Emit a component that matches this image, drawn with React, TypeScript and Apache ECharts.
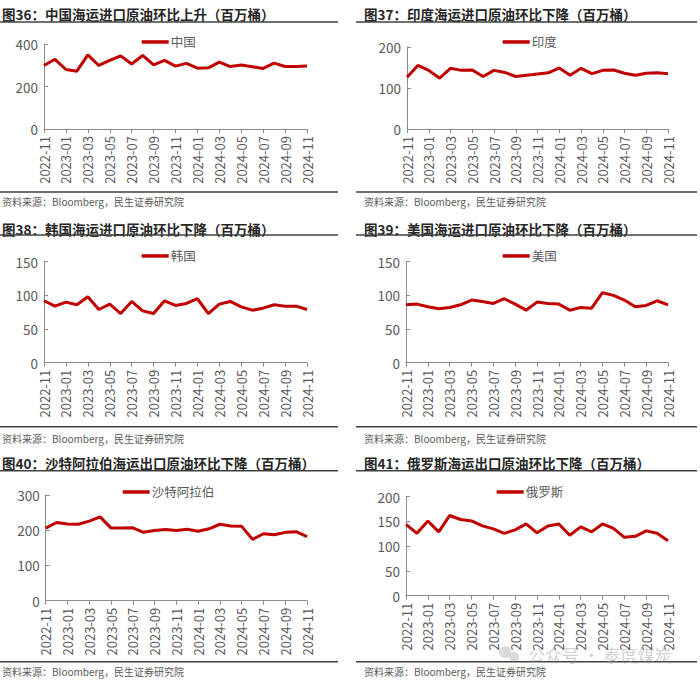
import React, { useEffect, useRef } from "react";
import * as echarts from "echarts";

const months = [
  "2022-11", "2022-12", "2023-01", "2023-02", "2023-03", "2023-04", "2023-05",
  "2023-06", "2023-07", "2023-08", "2023-09", "2023-10", "2023-11", "2023-12",
  "2024-01", "2024-02", "2024-03", "2024-04", "2024-05", "2024-06", "2024-07",
  "2024-08", "2024-09", "2024-10", "2024-11",
];

const china = [299, 328, 280, 272, 349, 299, 323, 344, 306, 346, 302, 323, 296, 309, 286, 288, 315, 294, 301, 293, 285, 310, 294, 294, 296];
const india = [126, 155, 143, 124, 148, 143, 144, 128, 143, 138, 128, 131, 134, 137, 149, 131, 148, 135, 143, 144, 136, 131, 136, 137, 135];
const korea = [92, 84, 90, 86, 98, 79, 87, 73, 91, 77, 73, 92, 85, 88, 95, 73, 87, 91, 83, 78, 81, 86, 84, 84, 79];
const usa = [86, 87, 83, 80, 82, 86, 93, 91, 88, 95, 87, 78, 90, 88, 87, 78, 82, 81, 104, 100, 93, 83, 85, 92, 86];
const saudi = [206, 222, 218, 217, 226, 238, 206, 206, 207, 194, 199, 202, 199, 203, 197, 204, 217, 212, 211, 174, 190, 187, 194, 196, 182];
const russia = [144, 126, 151, 129, 162, 154, 151, 141, 135, 126, 133, 145, 127, 141, 145, 122, 139, 129, 145, 136, 118, 120, 131, 126, 111];

const titles = [
  "图36：中国海运进口原油环比上升（百万桶）",
  "图37：印度海运进口原油环比下降（百万桶）",
  "图38：韩国海运进口原油环比下降（百万桶）",
  "图39：美国海运进口原油环比下降（百万桶）",
  "图40：沙特阿拉伯海运出口原油环比下降（百万桶）",
  "图41：俄罗斯海运出口原油环比下降（百万桶）",
];
const names = ["中国", "印度", "韩国", "美国", "沙特阿拉伯", "俄罗斯"];
const seriesData = [china, india, korea, usa, saudi, russia];
const yMax = [400, 200, 150, 150, 300, 200];
const yInterval = [200, 100, 50, 50, 100, 50];
const sourceText = "资料来源：Bloomberg，民生证券研究院";

// layout
const grids = [
  { left: 44, top: 44, width: 263, height: 85 },
  { left: 407, top: 47, width: 261, height: 82 },
  { left: 44, top: 261.7, width: 263, height: 101 },
  { left: 406, top: 261.7, width: 262, height: 101 },
  { left: 45.7, top: 495, width: 261.3, height: 105.7 },
  { left: 406, top: 496.7, width: 262, height: 99 },
];
const legendPos = [
  { left: 141.7, cy: 42.7 },
  { left: 502.7, cy: 42.7 },
  { left: 141.7, cy: 256.7 },
  { left: 502.7, cy: 256.7 },
  { left: 122.7, cy: 492.7 },
  { left: 496.7, cy: 492.7 },
];
const rowTitleY = [14, 229.3, 462.7];
const rowUnderY = [22, 235, 470.7];
const rowBottomY = [192, 426.7, 661.7];
const rowSourceY = [201.7, 438.3, 671.7];
const colTitleX = [2, 364];
const colLine = [
  [0, 338],
  [356, 697],
];

const FONT = '"Noto Sans CJK SC", "Noto Sans", sans-serif';
const RED = "#C00000";
const AXIS = "#8C8C8C";
const LABEL = "#595959";

export default function App() {
  const ref = useRef<HTMLDivElement>(null);

  useEffect(() => {
    if (!ref.current) return;
    const chart = echarts.init(ref.current, undefined, { renderer: "svg" });

    const graphic: any[] = [];
    for (let i = 0; i < 6; i++) {
      const row = Math.floor(i / 2);
      const col = i % 2;
      graphic.push({
        type: "text",
        style: {
          text: titles[i],
          x: colTitleX[col],
          y: rowTitleY[row],
          verticalAlign: "middle",
          fill: "#262626",
          font: `bold 13.5px ${FONT}`,
        },
      });
      graphic.push({
        type: "line",
        shape: { x1: colLine[col][0], y1: rowUnderY[row], x2: colLine[col][1], y2: rowUnderY[row] },
        style: { stroke: "#404040", lineWidth: 1.5 },
      });
      graphic.push({
        type: "line",
        shape: { x1: colLine[col][0], y1: rowBottomY[row], x2: colLine[col][1], y2: rowBottomY[row] },
        style: { stroke: "#404040", lineWidth: 1.5 },
      });
      graphic.push({
        type: "text",
        style: {
          text: sourceText,
          x: colTitleX[col],
          y: rowSourceY[row],
          verticalAlign: "middle",
          fill: "#595959",
          font: `10px ${FONT}`,
        },
      });
    }
    graphic.push({
      type: "text",
      style: {
        text: "公众号 · 泰度煤炭",
        x: 528,
        y: 654,
        verticalAlign: "middle",
        fill: "rgba(150,150,150,0.45)",
        font: `17px ${FONT}`,
      },
    });
    graphic.push({
      type: "circle",
      shape: { cx: 505, cy: 652, r: 6 },
      style: { fill: "rgba(150,150,150,0.35)" },
    });
    graphic.push({
      type: "circle",
      shape: { cx: 514, cy: 657, r: 5 },
      style: { fill: "rgba(150,150,150,0.35)" },
    });

    const option: any = {
      animation: false,
      backgroundColor: "#ffffff",
      textStyle: { fontFamily: FONT },
      grid: grids.map((g) => ({ ...g, containLabel: false })),
      legend: legendPos.map((p, i) => ({
        data: [names[i]],
        left: p.left,
        top: p.cy - 7,
        icon: "rect",
        itemWidth: 27,
        itemHeight: 3.5,
        itemGap: 2,
        textStyle: { color: LABEL, fontSize: 12.5, fontFamily: FONT, padding: [0, 0, 0, -3] },
        padding: 0,
      })),
      xAxis: grids.map((_, i) => ({
        type: "category",
        gridIndex: i,
        data: months,
        boundaryGap: false,
        axisLine: { lineStyle: { color: AXIS, width: 1 } },
        axisTick: { show: true, interval: 1, length: 4, lineStyle: { color: AXIS } },
        axisLabel: {
          interval: 1,
          rotate: 90,
          fontSize: 13,
          color: LABEL,
          margin: 7,
          fontFamily: FONT,
        },
        splitLine: { show: false },
      })),
      yAxis: grids.map((_, i) => ({
        type: "value",
        gridIndex: i,
        min: 0,
        max: yMax[i],
        interval: yInterval[i],
        axisLine: { show: true, lineStyle: { color: AXIS, width: 1 } },
        axisTick: { show: true, inside: true, length: 4, lineStyle: { color: AXIS } },
        axisLabel: { fontSize: 13.5, color: LABEL, margin: 6, fontFamily: FONT },
        splitLine: { show: false },
      })),
      series: seriesData.map((d, i) => ({
        type: "line",
        name: names[i],
        xAxisIndex: i,
        yAxisIndex: i,
        data: d,
        symbol: "none",
        showSymbol: false,
        lineStyle: { color: RED, width: 3 },
        itemStyle: { color: RED },
      })),
      graphic,
    };

    chart.setOption(option);
    return () => chart.dispose();
  }, []);

  return (
    <div
      ref={ref}
      style={{ position: "absolute", left: 0, top: 0, width: 700, height: 686, background: "#fff" }}
    />
  );
}
